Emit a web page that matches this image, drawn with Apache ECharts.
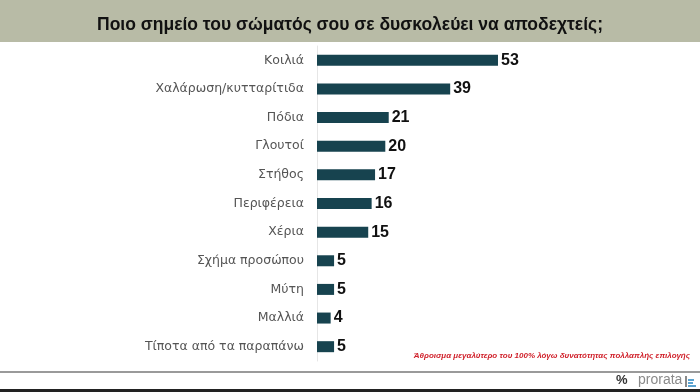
<!DOCTYPE html>
<html><head><meta charset="utf-8">
<script src="https://cdn.jsdelivr.net/npm/echarts@6/dist/echarts.min.js"></script>
<style>html,body{margin:0;padding:0;background:#fff}#c{width:700px;height:392px}</style>
</head><body><div id="c"></div>
<script>
const categories = ["Κοιλιά","Χαλάρωση/κυτταρίτιδα","Πόδια","Γλουτοί","Στήθος","Περιφέρεια","Χέρια","Σχήμα προσώπου","Μύτη","Μαλλιά","Τίποτα από τα παραπάνω"];
const values = [53,39,21,20,17,16,15,5,5,4,5];
const titleText = "Ποιο σημείο του σώματός σου σε δυσκολεύει να αποδεχτείς;";
const footnote = "Άθροισμα μεγαλύτερο του 100% λόγω δυνατότητας πολλαπλής επιλογής";

const chart = echarts.init(document.getElementById('c'));
chart.setOption({
  animation:false,
  backgroundColor:'#fff',
  title:{text:titleText,left:'center',top:11,textStyle:{fontFamily:'Liberation Sans, Arial',fontWeight:'bold',fontSize:17.5,color:'#111'}},
  graphic:[
    {type:'rect',z:-1,shape:{x:0,y:0,width:700,height:42},style:{fill:'#b8bba6'}},
    {type:'rect',shape:{x:0,y:371,width:700,height:2},style:{fill:'#9a9a9a'}},
    {type:'rect',shape:{x:0,y:389,width:700,height:3},style:{fill:'#222'}},
    {type:'text',right:10,top:352,style:{text:footnote,fill:'#d0202a',font:'italic bold 8px Liberation Sans, Arial'}},
    {type:'text',left:616,top:374,style:{text:'%',fill:'#333',font:'bold 13px Liberation Sans, Arial'}},
    {type:'text',left:638,top:373,style:{text:'prorata',fill:'#8a8a8a',font:'14px Liberation Sans, Arial'}},
    {type:'rect',shape:{x:685,y:376,width:2,height:11},style:{fill:'#8a8a8a'}},
    {type:'rect',shape:{x:688,y:379,width:6,height:2},style:{fill:'#5ba3d0'}},
    {type:'rect',shape:{x:688,y:382,width:5,height:2},style:{fill:'#5ba3d0'}},
    {type:'rect',shape:{x:688,y:385,width:8,height:2},style:{fill:'#5ba3d0'}}
  ],
  grid:{left:317,top:46,height:315,width:341.5,containLabel:false},
  xAxis:{type:'value',min:0,max:100,show:false},
  yAxis:{type:'category',data:categories,inverse:true,
    axisLine:{show:true,lineStyle:{color:'#e6e6e6',width:1}},
    axisTick:{show:false},
    axisLabel:{margin:13,fontFamily:'DejaVu Sans, sans-serif',fontSize:12.5,color:'#555'}},
  series:[{type:'bar',data:values,barWidth:11,
    itemStyle:{color:'#17434f'},
    label:{show:true,position:'right',distance:3,fontFamily:'Liberation Sans, Arial',fontWeight:'bold',fontSize:16,color:'#111'}}]
});
</script></body></html>
